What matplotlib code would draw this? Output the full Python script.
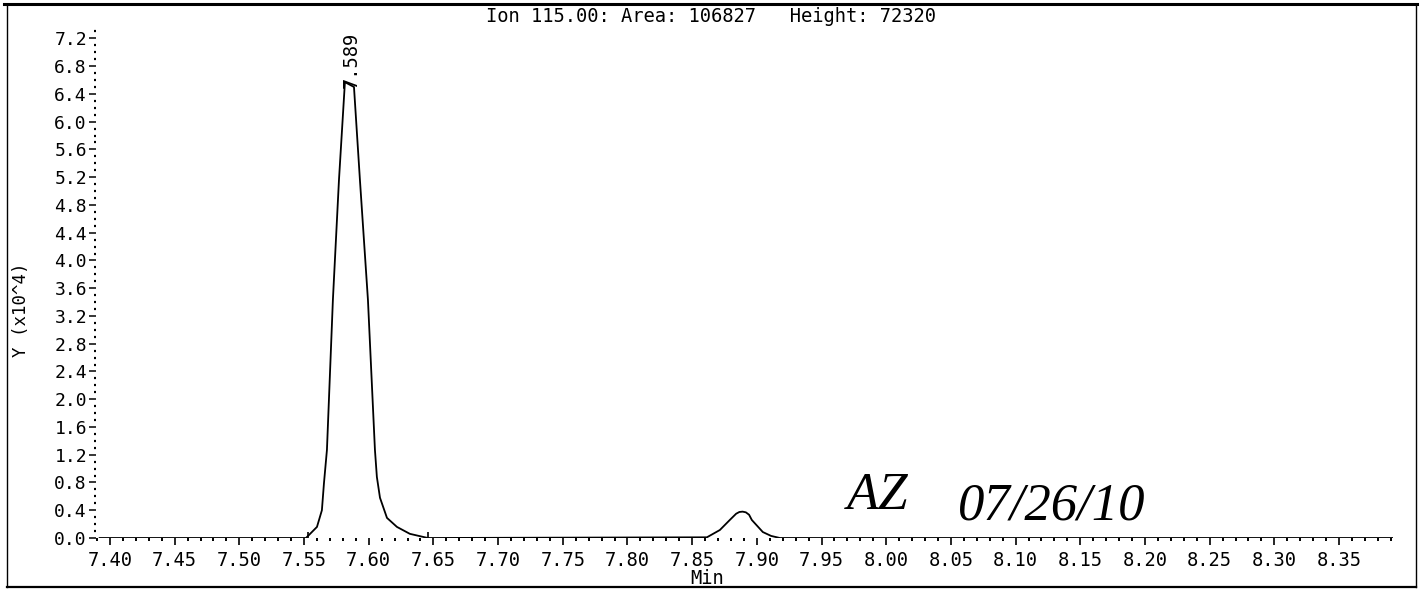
import matplotlib
matplotlib.use("Agg")
import matplotlib.pyplot as plt
from matplotlib.lines import Line2D
from matplotlib.ticker import MultipleLocator, FormatStrFormatter

# Extracted ion chromatogram, ion 115.00 (intensity in units of 10^4)
trace_time = [7.3920, 7.5515, 7.5600, 7.5638, 7.5654, 7.5677, 7.5723, 7.5770,
              7.5816, 7.5886, 7.5932, 7.5994, 7.6048, 7.6063, 7.6087, 7.6141,
              7.6218, 7.6318, 7.6457, 7.8614, 7.8714, 7.8791, 7.8840, 7.8865,
              7.8890, 7.8915, 7.8940, 7.8961, 7.9046, 7.9110, 7.9178, 8.3917]
trace_signal = [0.00, 0.00, 0.16, 0.40, 0.79, 1.27, 3.43, 5.16,
                6.57, 6.50, 5.16, 3.43, 1.27, 0.88, 0.58, 0.29,
                0.16, 0.06, 0.00, 0.01, 0.115, 0.26, 0.35, 0.375,
                0.38, 0.37, 0.335, 0.26, 0.086, 0.03, 0.00, 0.00]

# Integration start/end of the main peak
integration_marks = [7.5530, 7.6457]

peak_label = "7.589"
title_text = "Ion 115.00: Area: 106827   Height: 72320"
y_label = "Y (x10^4)"
x_label = "Min"
initials = "AZ"
sign_date = "07/26/10"

x_ticks = [7.40 + 0.05 * i for i in range(20)]
y_ticks = [0.4 * i for i in range(19)]

W, H = 1421, 589
fig = plt.figure(figsize=(W / 100, H / 100), dpi=100)
fig.patch.set_facecolor("white")

MONO = "DejaVu Sans Mono"

# axes rectangle in pixels
ax_left, ax_right, ax_bottom, ax_top = 96, 1393, 538, 28
ax = fig.add_axes([ax_left / W, 1 - ax_bottom / H,
                   (ax_right - ax_left) / W, (ax_bottom - ax_top) / H])
ax.set_xlim(7.3892, 8.3917)
ax.set_ylim(0, 7.35)
for s in ax.spines.values():
    s.set_visible(False)

ax.plot(trace_time, trace_signal, color="black", lw=1.3, solid_joinstyle="round")
ax.vlines(integration_marks, 0, 0.09, color="black", lw=1.2)

ax.set_xticks(x_ticks)
ax.set_xticklabels([f"{v:.2f}" for v in x_ticks])
ax.xaxis.set_minor_locator(MultipleLocator(0.01))
ax.set_yticks(y_ticks)
ax.yaxis.set_major_formatter(FormatStrFormatter("%.1f"))
ax.yaxis.set_minor_locator(MultipleLocator(0.1))

ax.tick_params(axis="x", which="major", direction="out", length=5, width=1.2,
               pad=4.5, labelsize=13.5)
ax.tick_params(axis="x", which="minor", direction="out", length=2.2, width=1.4)
ax.tick_params(axis="y", which="major", direction="out", length=5, width=1.1,
               pad=1.5, labelsize=13)
ax.tick_params(axis="y", which="minor", direction="out", length=1.3, width=1.6)
for lab in ax.get_xticklabels() + ax.get_yticklabels():
    lab.set_family(MONO)

# retention time label above the main peak
apex = max(range(len(trace_signal)), key=lambda i: trace_signal[i])
ax.annotate(peak_label, xy=(trace_time[apex], trace_signal[apex]),
            xytext=(4.3, -4.5), textcoords="offset points",
            rotation=90, ha="center", va="bottom",
            family=MONO, fontsize=13.5)

fig.text(711 / W, 1 - 16 / H, title_text, ha="center", va="center",
         family=MONO, fontsize=13.5)
fig.text(707 / W, 1 - 579 / H, x_label, ha="center", va="center",
         family=MONO, fontsize=13.5)
fig.text(21 / W, 1 - 310 / H, y_label, ha="center", va="center",
         rotation=90, family=MONO, fontsize=12.5)

# handwritten sign-off
fig.text(878 / W, 1 - 496 / H, initials, ha="center", va="center",
         family="Liberation Serif", style="italic", fontsize=38)
fig.text(1052 / W, 1 - 506 / H, sign_date, ha="center", va="center",
         family="Liberation Serif", style="italic", fontsize=38)

# page frame
def px_line(x0, y0, x1, y1, lw):
    fig.add_artist(Line2D([x0 / W, x1 / W], [1 - y0 / H, 1 - y1 / H],
                          transform=fig.transFigure, color="black", lw=lw))

px_line(4, 4, 1417, 4, 2.2)
px_line(7, 4, 7, 587, 1.0)
px_line(1416, 4, 1416, 587, 1.0)
px_line(7, 587, 1416, 587, 1.6)

fig.savefig("out.png", dpi=100, facecolor="white")
